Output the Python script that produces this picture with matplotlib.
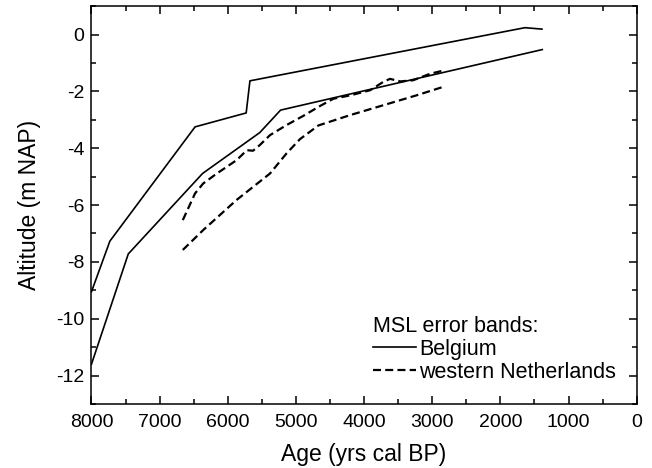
import matplotlib.pyplot as plt
from matplotlib.ticker import MultipleLocator

plt.rcParams['font.family'] = ['Liberation Sans', 'DejaVu Sans']
plt.rcParams['axes.unicode_minus'] = False

# Belgium MSL error band (upper and lower limit)
bel_up_age = [8000, 7730, 6480, 5730, 5675, 1640, 1390]
bel_up_alt = [-9.05, -7.27, -3.25, -2.76, -1.63, 0.24, 0.19]
bel_lo_age = [8000, 7460, 6370, 5530, 5225, 1385]
bel_lo_alt = [-11.6, -7.72, -4.89, -3.45, -2.66, -0.53]

# western Netherlands MSL error band
nl_up_age = [6660, 6480, 6360, 6160, 5870, 5720, 5630, 5530, 5380, 5140,
             4890, 4650, 4450, 4200, 3910, 3720, 3620, 3470, 3280, 3030, 2820]
nl_up_alt = [-6.53, -5.59, -5.24, -4.89, -4.42, -4.07, -4.09, -3.89, -3.54, -3.19,
             -2.86, -2.52, -2.26, -2.14, -1.96, -1.67, -1.56, -1.65, -1.61, -1.38, -1.26]
nl_lo_age = [6660, 6360, 5870, 5380, 5140, 4940, 4670, 4210, 3720, 3230, 2810]
nl_lo_alt = [-7.58, -6.88, -5.82, -4.89, -4.19, -3.68, -3.2, -2.84, -2.49, -2.14, -1.82]

fig = plt.figure(figsize=(6.52, 4.68), dpi=100)
ax = fig.add_axes([0.1403, 0.1368, 0.8362, 0.8502])

lw = 1.2
ax.plot(bel_up_age, bel_up_alt, color="black", lw=lw, label="Belgium")
ax.plot(bel_lo_age, bel_lo_alt, color="black", lw=lw)
ax.plot(nl_up_age, nl_up_alt, color="black", lw=1.6, dashes=(3.6, 1.9),
        label="western Netherlands")
ax.plot(nl_lo_age, nl_lo_alt, color="black", lw=1.6, dashes=(3.6, 1.9))

ax.set_xlim(8000, 0)
ax.set_ylim(-13, 1)
ax.xaxis.set_major_locator(MultipleLocator(1000))
ax.xaxis.set_minor_locator(MultipleLocator(500))
ax.yaxis.set_major_locator(MultipleLocator(2))
ax.yaxis.set_minor_locator(MultipleLocator(1))
ax.tick_params(which="both", direction="in", top=True, right=True,
               width=1.1, labelsize=14, colors="black")
ax.tick_params(which="major", length=6)
ax.tick_params(which="minor", length=3.5)
ax.tick_params(axis="x", pad=7)
ax.tick_params(axis="y", pad=5)
for s in ax.spines.values():
    s.set_linewidth(1.1)

ax.set_xlabel("Age (yrs cal BP)", fontsize=16.5, labelpad=9)
ax.set_ylabel("Altitude (m NAP)", fontsize=16.5, labelpad=11)

leg = ax.legend(title="MSL error bands:", loc="lower right",
                bbox_to_anchor=(0.99, 0.015), frameon=False, fontsize=15.5,
                title_fontsize=15.5, alignment="left", handlelength=2.0,
                handletextpad=0.15, labelspacing=0.1, borderaxespad=0.3)

fig.savefig("out.png", dpi=100)
